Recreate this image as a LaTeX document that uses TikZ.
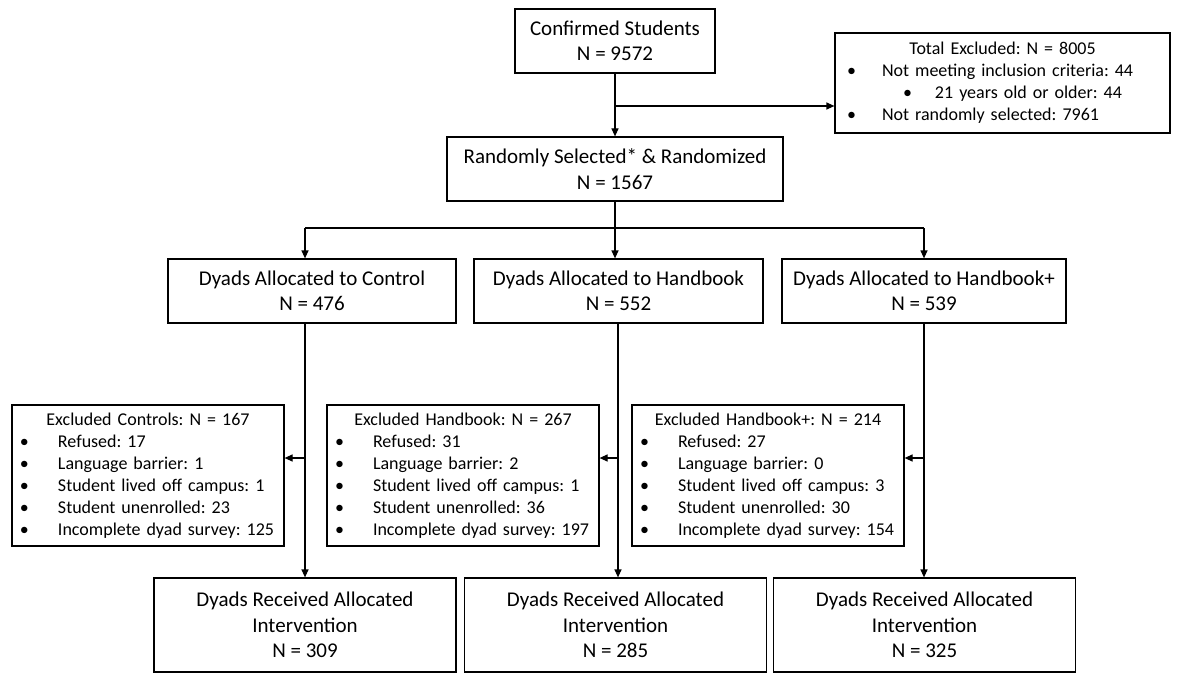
\documentclass[tikz,border=0pt]{standalone}
\usepackage{fontspec}
\setmainfont{Carlito}
\usetikzlibrary{arrows.meta}
\newcommand\bl{\hspace*{8pt}\makebox[38pt][l]{•}}
\frenchspacing
\begin{document}
\begin{tikzpicture}[x=1pt,y=-1pt,
  box/.style={draw, line width=1.2pt, inner sep=0pt, align=center, font=\fontsize{21}{25.5}\selectfont},
  lst/.style={draw, line width=1.2pt, inner sep=0pt, align=left, font=\fontsize{18}{22}\selectfont},
  con/.style={line width=1.2pt, -{Triangle[length=8pt,width=7pt]}},
  ln/.style={line width=1.2pt}]
\useasboundingbox[fill=white] (0,0) rectangle (1181,674);

% top
\node[box, minimum width=200pt, minimum height=64pt] (conf) at (615,41) {Confirmed Students\\N = 9572};
\node[lst, text width=335pt, minimum height=100pt] (excl) at (1002.5,83) {%
  {\centering Total Excluded: N = 8005\par}
  \hspace*{12pt}\makebox[35pt][l]{•}Not meeting inclusion criteria: 44\par
  \hspace*{68pt}\makebox[32pt][l]{•}21 years old or older: 44\par
  \hspace*{12pt}\makebox[35pt][l]{•}Not randomly selected: 7961};
\node[box, minimum width=336pt, minimum height=64pt] (rand) at (615,169) {Randomly Selected* \& Randomized\\N = 1567};

% allocated
\node[box, minimum width=288pt, minimum height=64pt] (actl) at (312,291) {Dyads Allocated to Control\\N = 476};
\node[box, minimum width=289pt, minimum height=64pt] (ahb) at (618.5,291) {Dyads Allocated to Handbook\\N = 552};
\node[box, minimum width=284pt, minimum height=64pt] (ahp) at (924,291) {Dyads Allocated to Handbook+\\N = 539};

% excluded
\node[lst, text width=272pt, minimum height=141pt] (xctl) at (148,475.5) {%
  {\centering Excluded Controls: N = 167\par}
  \bl Refused: 17\par
  \bl Language barrier: 1\par
  \bl Student lived off campus: 1\par
  \bl Student unenrolled: 23\par
  \bl Incomplete dyad survey: 125};
\node[lst, text width=272pt, minimum height=141pt] (xhb) at (463,475.5) {%
  {\centering Excluded Handbook: N = 267\par}
  \bl Refused: 31\par
  \bl Language barrier: 2\par
  \bl Student lived off campus: 1\par
  \bl Student unenrolled: 36\par
  \bl Incomplete dyad survey: 197};
\node[lst, text width=272pt, minimum height=141pt] (xhp) at (768,475.5) {%
  {\centering Excluded Handbook+: N = 214\par}
  \bl Refused: 27\par
  \bl Language barrier: 0\par
  \bl Student lived off campus: 3\par
  \bl Student unenrolled: 30\par
  \bl Incomplete dyad survey: 154};

% received
\node[box, minimum width=302pt, minimum height=94pt] (rctl) at (305,625) {Dyads Received Allocated\\Intervention\\N = 309};
\node[box, minimum width=302pt, minimum height=94pt] (rhb) at (615.5,625) {Dyads Received Allocated\\Intervention\\N = 285};
\node[box, minimum width=302pt, minimum height=94pt] (rhp) at (924.5,625) {Dyads Received Allocated\\Intervention\\N = 325};

% connectors
\coordinate (b1) at (615,106);
\draw[con] (conf) -- (rand);
\draw[con] (b1) -- (b1 -| excl.west);

\coordinate (s) at (615,228);
\coordinate (sL) at (305,228);
\coordinate (sR) at (924,228);
\draw[ln] (rand.south) -- (s);
\draw[ln] (sL) -- (sR);
\draw[con] (sL) -- (sL |- actl.north);
\draw[con] (s) -- (s |- ahb.north);
\draw[con] (sR) -- (ahp.north);

\coordinate (jL) at (305,458);
\coordinate (jM) at (618,458);
\coordinate (jR) at (924,458);
\draw[con] (jL |- actl.south) -- (jL |- rctl.north);
\draw[con] (jM |- ahb.south) -- (jM |- rhb.north);
\draw[con] (ahp.south) -- (jR |- rhp.north);
\draw[con] (jL) -- (jL -| xctl.east);
\draw[con] (jM) -- (jM -| xhb.east);
\draw[con] (jR) -- (jR -| xhp.east);
\end{tikzpicture}
\end{document}
